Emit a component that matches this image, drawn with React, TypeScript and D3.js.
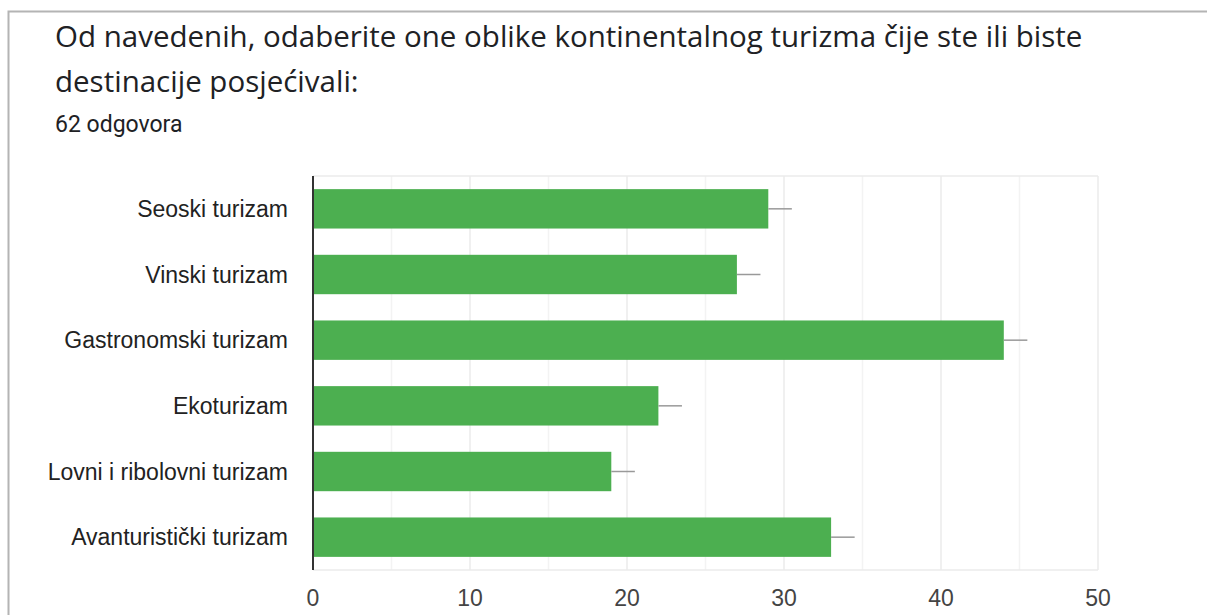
import React, { useEffect, useRef } from 'react';
import * as d3 from 'd3';

const categories = [
  'Seoski turizam',
  'Vinski turizam',
  'Gastronomski turizam',
  'Ekoturizam',
  'Lovni i ribolovni turizam',
  'Avanturistički turizam',
];
const counts = [29, 27, 44, 22, 19, 33];
const xTicks = [0, 10, 20, 30, 40, 50];
const titleLines = [
  'Od navedenih, odaberite one oblike kontinentalnog turizma čije ste ili biste',
  'destinacije posjećivali:',
];
const subtitle = '62 odgovora';

const App: React.FC = () => {
  const svgRef = useRef<SVGSVGElement>(null);

  useEffect(() => {
    if (!svgRef.current) return;
    const svg = d3.select(svgRef.current);
    svg.selectAll('*').remove();

    const width = 1207;
    const height = 615;
    const margin = { top: 176, right: 109, bottom: 45, left: 313 };

    // card frame
    svg
      .append('path')
      .attr('d', `M8.5,${height} V11.5 H${width}`)
      .attr('fill', 'none')
      .attr('stroke', '#b4b4b4')
      .attr('stroke-width', 2);

    svg
      .selectAll('.title')
      .data(titleLines)
      .enter()
      .append('text')
      .attr('class', 'title')
      .attr('x', 55)
      .attr('y', (_, i) => 47 + i * 45)
      .attr('font-family', 'Open Sans, Roboto, sans-serif')
      .attr('font-size', 29.5)
      .attr('fill', '#202124')
      .text((d) => d);

    svg
      .append('text')
      .attr('x', 55)
      .attr('y', 132)
      .attr('font-family', 'Roboto, sans-serif')
      .attr('font-size', 23)
      .attr('fill', '#202124')
      .text(subtitle);

    const x = d3
      .scaleLinear()
      .domain([0, 50])
      .range([margin.left, width - margin.right]);

    const y = d3
      .scaleBand()
      .domain(categories)
      .range([margin.top, height - margin.bottom])
      .paddingInner(0.4)
      .paddingOuter(0.2);

    const grid = svg.append('g');
    grid
      .selectAll('line')
      .data(d3.range(5, 51, 5))
      .enter()
      .append('line')
      .attr('x1', (d) => x(d))
      .attr('x2', (d) => x(d))
      .attr('y1', margin.top)
      .attr('y2', height - margin.bottom)
      .attr('stroke', (d) => (d % 10 === 0 ? '#ebebeb' : '#f3f3f3'))
      .attr('stroke-width', 1.5);
    grid
      .append('line')
      .attr('x1', margin.left)
      .attr('x2', x(50))
      .attr('y1', margin.top)
      .attr('y2', margin.top)
      .attr('stroke', '#ebebeb')
      .attr('stroke-width', 1.5);
    grid
      .append('line')
      .attr('x1', margin.left)
      .attr('x2', x(50))
      .attr('y1', height - margin.bottom)
      .attr('y2', height - margin.bottom)
      .attr('stroke', '#ebebeb')
      .attr('stroke-width', 1.5);

    const rows = categories.map((c, i) => ({ name: c, value: counts[i] }));

    svg
      .selectAll('.bar')
      .data(rows)
      .enter()
      .append('rect')
      .attr('class', 'bar')
      .attr('x', x(0))
      .attr('y', (d) => y(d.name) || 0)
      .attr('width', (d) => x(d.value) - x(0))
      .attr('height', y.bandwidth())
      .attr('fill', '#4caf50');

    svg
      .selectAll('.whisker')
      .data(rows)
      .enter()
      .append('line')
      .attr('class', 'whisker')
      .attr('x1', (d) => x(d.value))
      .attr('x2', (d) => x(d.value + 1.5))
      .attr('y1', (d) => (y(d.name) || 0) + y.bandwidth() / 2)
      .attr('y2', (d) => (y(d.name) || 0) + y.bandwidth() / 2)
      .attr('stroke', '#999')
      .attr('stroke-width', 1.5);

    svg
      .append('line')
      .attr('x1', x(0))
      .attr('x2', x(0))
      .attr('y1', margin.top)
      .attr('y2', height - margin.bottom)
      .attr('stroke', '#333')
      .attr('stroke-width', 2);

    svg
      .selectAll('.cat')
      .data(rows)
      .enter()
      .append('text')
      .attr('class', 'cat')
      .attr('x', 288)
      .attr('y', (d) => (y(d.name) || 0) + y.bandwidth() / 2)
      .attr('dy', '0.35em')
      .attr('text-anchor', 'end')
      .attr('font-family', 'Liberation Sans, Arial, sans-serif')
      .attr('font-size', 23)
      .attr('fill', '#222')
      .text((d) => d.name);

    svg
      .selectAll('.tick')
      .data(xTicks)
      .enter()
      .append('text')
      .attr('class', 'tick')
      .attr('x', (d) => x(d))
      .attr('y', 606)
      .attr('text-anchor', 'middle')
      .attr('font-family', 'Liberation Sans, Arial, sans-serif')
      .attr('font-size', 23)
      .attr('fill', '#444')
      .text((d) => d);
  }, []);

  return (
    <svg
      ref={svgRef}
      width={1207}
      height={615}
      style={{ position: 'absolute', left: 0, top: 0, background: '#fff' }}
    ></svg>
  );
};

export default App;
